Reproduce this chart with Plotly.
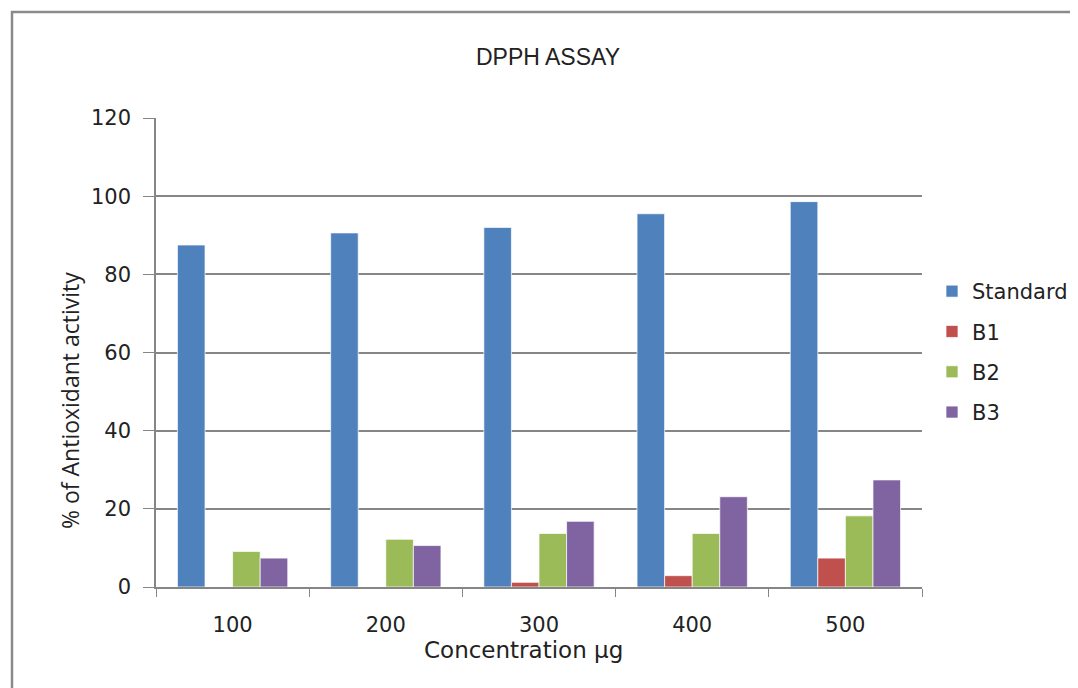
import plotly.graph_objects as go

categories = ["100", "200", "300", "400", "500"]
standard = [87.5, 90.6, 92.0, 95.5, 98.6]
b1 = [0, 0, 1.2, 2.9, 7.4]
b2 = [9.1, 12.2, 13.7, 13.7, 18.2]
b3 = [7.4, 10.6, 16.8, 23.1, 27.4]
y_ticks = [0, 20, 40, 60, 80, 100, 120]

series = [("Standard", standard, "#4F81BD"), ("B1", b1, "#C0504D"),
          ("B2", b2, "#9BBB59"), ("B3", b3, "#8064A2")]

fig = go.Figure()
for name, vals, col in series:
    fig.add_trace(go.Bar(x=categories, y=vals, name=name, legendgroup=name,
                         marker=dict(color=col, line=dict(color="rgba(255,255,255,0.7)", width=1))))

# page body has an 8px margin, so the figure is shifted by 8px
W, H = 1070, 680
L, R, T, B = 148, 156, 110, 101
pw, ph = W - L - R, H - T - B

def px_x(x):
    return (x - L) / pw

def px_y(y):
    return (H - B - y) / ph

tick_font = dict(family="DejaVu Sans, Verdana, sans-serif", size=21, color="#222")

fig.update_layout(
    width=W, height=H,
    margin=dict(l=L, r=R, t=T, b=B, autoexpand=False),
    paper_bgcolor="white", plot_bgcolor="white",
    barmode="group", bargap=0.28, bargroupgap=0,
    showlegend=True,
    legend=dict(x=px_x(924), y=px_y(263), xanchor="left", yanchor="top",
                font=dict(family="DejaVu Sans, Verdana, sans-serif", size=21, color="#222"),
                tracegroupgap=10, itemwidth=30, bgcolor="rgba(0,0,0,0)"),
    title=dict(text="DPPH ASSAY", x=540 / W, xanchor="center", y=1 - 49 / H, yanchor="middle",
               font=dict(family="Liberation Sans, Arial, sans-serif", size=23, color="#222")),
    xaxis=dict(type="category", showgrid=False, showline=True, linecolor="#868686", linewidth=1.5,
               ticks="outside", tickson="boundaries", ticklen=8, tickcolor="#868686",
               tickfont=tick_font, ticklabelstandoff=18, mirror=False),
    yaxis=dict(range=[0, 120], tickvals=y_ticks, showgrid=True, gridcolor="#868686", gridwidth=1.5,
               showline=True, linecolor="#868686", linewidth=1.5, ticks="outside", ticklen=11,
               tickcolor="#868686", tickfont=tick_font, ticklabelstandoff=8, zeroline=False),
    shapes=[dict(type="rect", xref="paper", yref="paper",
                 x0=px_x(4), x1=px_x(1100), y0=px_y(720), y1=px_y(4),
                 line=dict(color="#8a8a8a", width=2.5), fillcolor="rgba(0,0,0,0)", layer="below")],
    annotations=[
        dict(text="Concentration µg", xref="paper", yref="paper", x=px_x(515), y=px_y(642),
             xanchor="center", yanchor="middle", showarrow=False,
             font=dict(family="DejaVu Sans, Verdana, sans-serif", size=23, color="#222")),
        dict(text="% of Antioxidant activity", xref="paper", yref="paper", x=px_x(62), y=px_y(393),
             xanchor="center", yanchor="middle", showarrow=False, textangle=-90,
             font=dict(family="Open Sans, Noto Sans, sans-serif", size=23, color="#222")),
    ],
)

fig.write_html("out.html")
